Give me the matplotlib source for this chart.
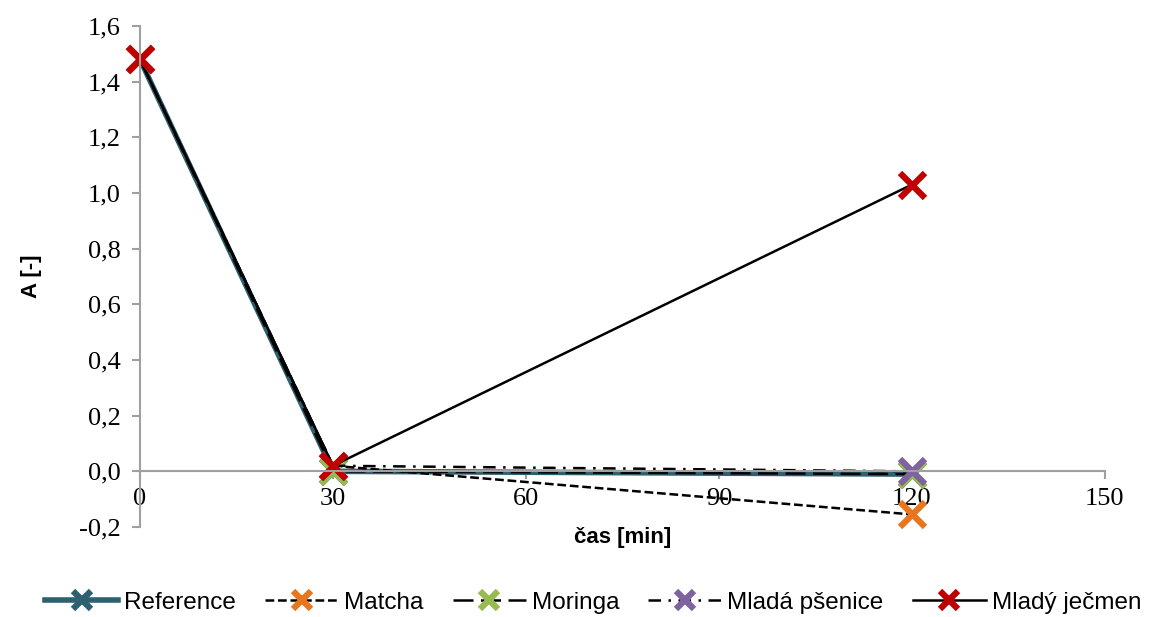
import matplotlib
matplotlib.use("Agg")
import matplotlib.pyplot as plt

time = [0, 30, 120]
series_names = ["Reference", "Matcha", "Moringa", "Mladá pšenice", "Mladý ječmen"]
reference = [1.48, 0.00, -0.01]
matcha = [1.48, 0.02, -0.155]
moringa = [1.48, 0.00, -0.01]
psenice = [1.48, 0.02, 0.00]
jecmen = [1.48, 0.02, 1.03]

x_ticks = [0, 30, 60, 90, 120, 150]
y_ticks = [-0.2, 0.0, 0.2, 0.4, 0.6, 0.8, 1.0, 1.2, 1.4, 1.6]

fig = plt.figure(figsize=(11.63, 6.17), dpi=100)
ax = fig.add_axes([0.1204, 0.1459, 0.8296, 0.8120])

for sp in ["top", "right"]:
    ax.spines[sp].set_visible(False)
ax.spines["bottom"].set_position(("data", 0))
ax.spines["bottom"].set_color("#A0A0A0")
ax.spines["left"].set_color("#A0A0A0")
ax.spines["bottom"].set_linewidth(1.5)
ax.spines["left"].set_linewidth(1.5)

styles = [
    dict(data=reference, color="#2E6170", lw=4.0, ls="-", mc="#2E6170"),
    dict(data=matcha, color="black", lw=1.8, ls=(0, (3.5, 1.5)), mc="#E8761E"),
    dict(data=moringa, color="black", lw=1.8, ls=(0, (8, 3)), mc="#97BB50"),
    dict(data=psenice, color="black", lw=1.8, ls=(0, (5, 3, 1, 3)), mc="#7E63A0"),
    dict(data=jecmen, color="black", lw=1.8, ls="-", mc="#C00000"),
]
for name, s in zip(series_names, styles):
    ax.plot(time, s["data"], color=s["color"], lw=s["lw"], ls=s["ls"],
            marker="x", markersize=18, markeredgewidth=4.5, clip_on=False,
            markeredgecolor=s["mc"], markerfacecolor=s["mc"], label=name)

ax.set_xlim(0, 150)
ax.set_ylim(-0.2, 1.6)
ax.set_xticks(x_ticks)
ax.set_yticks(y_ticks)
ax.set_xticklabels([str(v) for v in x_ticks])
ax.set_yticklabels([f"{v:.1f}".replace(".", ",") for v in y_ticks])
for lab in ax.get_xticklabels() + ax.get_yticklabels():
    lab.set_fontfamily("Liberation Serif")
    lab.set_fontsize(19)

ax.tick_params(axis="both", direction="out", color="#A0A0A0", width=1.5, length=6)
ax.tick_params(axis="x", pad=6)
ax.tick_params(axis="y", pad=8)

ax.set_xlabel("čas [min]", family="Liberation Sans", fontsize=16, fontweight="bold")
ax.xaxis.set_label_coords(0.5, 0.0)
ax.set_ylabel("A [-]", family="Liberation Sans", fontsize=16, fontweight="bold")
ax.yaxis.set_label_coords(-0.102, 0.5)

leg = fig.legend(loc="lower center", bbox_to_anchor=(0.51, -0.03), ncol=5, frameon=False,
                 prop={"family": "Liberation Sans", "size": 17.5},
                 handlelength=3.0, columnspacing=1.2, handletextpad=0.25, markerscale=0.75)

fig.savefig("out.png", dpi=100)
